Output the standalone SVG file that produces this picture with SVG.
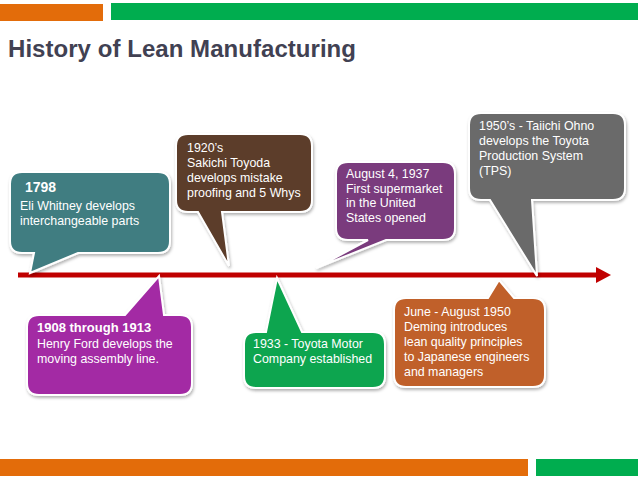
<svg xmlns="http://www.w3.org/2000/svg" width="638" height="479" viewBox="0 0 638 479">
<defs>
<style>
.t{font-family:"Liberation Sans",Arial,sans-serif;font-size:12.4px;fill:#ffffff}
.b{font-weight:bold;font-size:13px}
.c{stroke:#ffffff;stroke-width:2;filter:url(#sh)}
</style>
<filter id="sh" x="-10%" y="-10%" width="130%" height="130%">
<feDropShadow dx="1" dy="2" stdDeviation="1.5" flood-color="#000" flood-opacity="0.3"/>
</filter>
</defs>
<rect x="0" y="4" width="103" height="17" fill="#e36c0a"/>
<rect x="111" y="3" width="527" height="17" fill="#00ad4f"/>
<text x="8" y="57" font-family="Liberation Sans,Arial,sans-serif" font-weight="bold" font-size="24" fill="#414152" textLength="348">History of Lean Manufacturing</text>
<rect x="0" y="459" width="528" height="17" fill="#e36c0a"/>
<rect x="536" y="459" width="102" height="17" fill="#00ad4f"/>
<g id="connectors">
<line x1="18" y1="275" x2="598" y2="275" stroke="#c00000" stroke-width="5"/>
<polygon points="596,267 611,275 596,283" fill="#c00000"/>
</g>
<g id="n1798">
<path class="c" fill="#3f7d81" d="M22,172 H158 Q170,172 170,184 V241 Q170,253 158,253 H78 L30,273 L34,253 H22 Q10,253 10,241 V184 Q10,172 22,172 Z"/>
<text class="t b" x="25" y="192" style="font-size:14px">1798</text>
<text class="t" x="20" y="210">Eli Whitney develops</text>
<text class="t" x="20" y="225">interchangeable parts</text>
</g>
<g id="n1920">
<path class="c" fill="#5c3d2a" d="M188,134 H300 Q312,134 312,146 V200 Q312,212 300,212 H222 L229,266 L198,212 H188 Q176,212 176,200 V146 Q176,134 188,134 Z"/>
<text class="t" x="187" y="152">1920’s</text>
<text class="t" x="187" y="167">Sakichi Toyoda</text>
<text class="t" x="187" y="182">develops mistake</text>
<text class="t" x="187" y="197">proofing  and 5 Whys</text>
</g>
<g id="n1937">
<path class="c" fill="#7a3b7d" d="M348,162 H443 Q455,162 455,174 V228 Q455,240 443,240 H386 L316,268 L368,240 H348 Q336,240 336,228 V174 Q336,162 348,162 Z"/>
<text class="t" x="346" y="178">August 4, 1937</text>
<text class="t" x="346" y="193">First supermarket</text>
<text class="t" x="346" y="207">in the United</text>
<text class="t" x="346" y="222">States opened</text>
</g>
<g id="n1950s">
<path class="c" fill="#6a6a6a" d="M481,113 H613 Q625,113 625,125 V188 Q625,200 613,200 H532 L537,276 L490,200 H481 Q469,200 469,188 V125 Q469,113 481,113 Z"/>
<text class="t" x="479" y="130">1950’s - Taiichi Ohno</text>
<text class="t" x="479" y="145">develops the Toyota</text>
<text class="t" x="479" y="160">Production System</text>
<text class="t" x="479" y="175">(TPS)</text>
</g>
<g id="n1908">
<path class="c" fill="#a32aa4" d="M39,315 H125 L159,276 L164,315 H180 Q192,315 192,327 V383 Q192,395 180,395 H39 Q27,395 27,383 V327 Q27,315 39,315 Z"/>
<text class="t b" x="37" y="332">1908 through 1913</text>
<text class="t" x="37" y="348">Henry Ford develops the</text>
<text class="t" x="37" y="363">moving assembly line.</text>
</g>
<g id="n1933">
<path class="c" fill="#10a550" d="M256,332 H266 L277,278 L302,332 H373 Q385,332 385,344 V376 Q385,388 373,388 H256 Q244,388 244,376 V344 Q244,332 256,332 Z"/>
<text class="t" x="253" y="348">1933 - Toyota Motor</text>
<text class="t" x="253" y="363">Company established</text>
</g>
<g id="n1950">
<path class="c" fill="#c0602a" d="M406,298 H488 L499,280 L514,298 H533 Q545,298 545,310 V375 Q545,387 533,387 H406 Q394,387 394,375 V310 Q394,298 406,298 Z"/>
<text class="t" x="404" y="316">June - August 1950</text>
<text class="t" x="404" y="331">Deming introduces</text>
<text class="t" x="404" y="346">lean quality principles</text>
<text class="t" x="404" y="361">to Japanese engineers</text>
<text class="t" x="404" y="376">and managers</text>
</g>
</svg>
